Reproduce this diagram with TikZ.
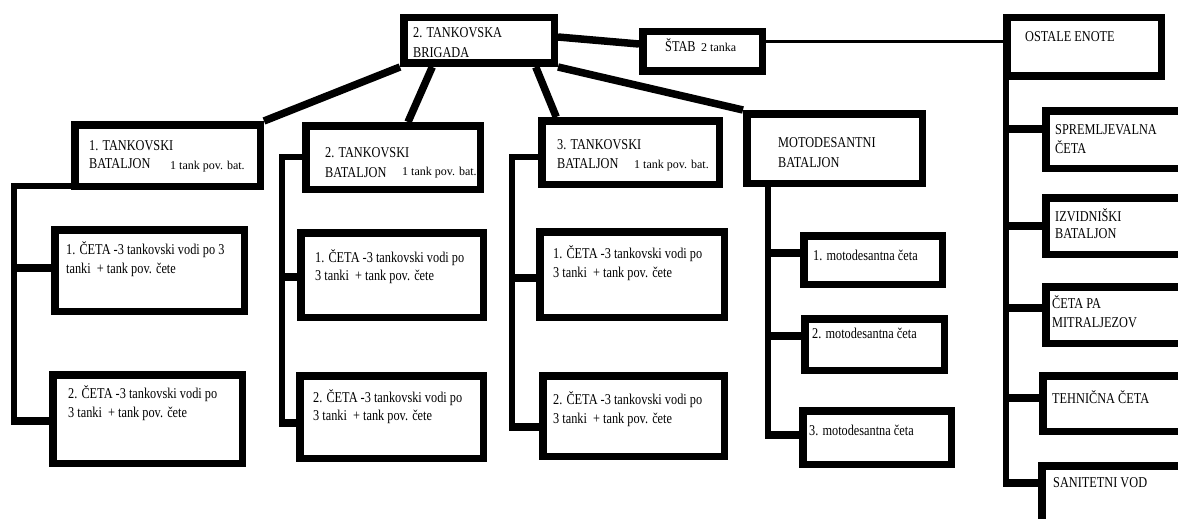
\documentclass[tikz,border=0pt]{standalone}
\usepackage{fontspec}
\setmainfont[FakeStretch=0.82]{Liberation Serif}
\newfontfamily\plainserif{Liberation Serif}
\pgfdeclarelayer{back}
\pgfdeclarelayer{bg}
\pgfsetlayers{back,bg,main}
\newcommand{\mkbox}[5]{\node[bx, minimum width={#4-#2-7.5}, minimum height={#5-#3-7.5}] (#1) at ({(#2+#4)/2},{(#3+#5)/2}) {};}
\begin{document}
\begin{tikzpicture}[x=1pt,y=-1pt,
  bx/.style={draw=black, fill=white, line width=7.5pt, rectangle, inner sep=0pt},
  lbl/.style={anchor=base west, inner sep=0pt, font=\fontsize{15}{18}\selectfont},
  sml/.style={anchor=base west, inner sep=0pt, font=\plainserif\fontsize{12}{14}\selectfont},
  conn/.style={line width=7.5pt},
  trunk/.style={line width=6pt, line join=miter},
  thinconn/.style={line width=3pt}]
\useasboundingbox (0,0) rectangle (1178,519);
\begin{pgfonlayer}{back}
\fill[white] (0,0) rectangle (1178,519);
\end{pgfonlayer}
% boxes
\mkbox{brig}{400}{14}{558}{67}
\mkbox{stab}{639}{28}{766}{75}
\mkbox{ost}{1003}{14}{1165}{80}
\mkbox{bA}{71}{121}{264}{190}
\mkbox{bB}{302}{122}{484}{193}
\mkbox{bC}{538}{117}{723}{188}
\mkbox{moto}{743}{110}{926}{187}
\mkbox{aA}{51}{226}{248}{315}
\mkbox{aB}{49}{371}{246}{467}
\mkbox{cA}{297}{229}{487}{321}
\mkbox{cB}{296}{372}{487}{462}
\mkbox{dA}{536}{228}{728}{321}
\mkbox{dB}{539}{372}{728}{460}
\mkbox{mA}{800}{232}{946}{288}
\mkbox{mB}{801}{315}{948}{374}
\mkbox{mC}{799}{407}{955}{468}
\mkbox{oA}{1042}{107}{1195}{172}
\mkbox{oB}{1042}{194}{1195}{258}
\mkbox{oC}{1042}{283}{1195}{347}
\mkbox{oD}{1039}{372}{1195}{435}
\mkbox{oE}{1038}{462}{1195}{535}
% trunk coordinates
\coordinate (tA1) at (14,186);  \coordinate (tA2) at (14,425);
\coordinate (jA1) at (14,268);  \coordinate (jA2) at (14,421);
\coordinate (tB1) at (282,157); \coordinate (tB2) at (282,427);
\coordinate (jB1) at (282,277); \coordinate (jB2) at (282,423);
\coordinate (tC1) at (512,157); \coordinate (tC2) at (512,431);
\coordinate (jC1) at (512,278); \coordinate (jC2) at (512,427);
\coordinate (tM) at (768,439);
\coordinate (jM1) at (768,253); \coordinate (jM2) at (768,336); \coordinate (jM3) at (768,435);
\coordinate (tO) at (1006,487);
\coordinate (jO1) at (1006,129); \coordinate (jO2) at (1006,226); \coordinate (jO3) at (1006,308);
\coordinate (jO4) at (1006,398); \coordinate (jO5) at (1006,483);
\begin{pgfonlayer}{bg}
\draw[conn] (brig.south west) -- (bA.north east);
\draw[conn] ([xshift=32.25pt]brig.south west) -- ([xshift=106pt]bB.north west);
\draw[conn] ([xshift=-22.25pt]brig.south east) -- ([xshift=18.25pt]bC.north west);
\draw[conn] (brig.south east) -- (moto.north west);
\draw[conn] ([yshift=3.5pt]brig.east) -- ([yshift=7.5pt]stab.west);
\draw[thinconn] ([yshift=9.5pt]stab.east) -- ([yshift=5pt]ost.west);
\draw[trunk] (bA.west |- tA1) -- (tA1) -- (tA2);
\draw[conn] (jA1) -- (jA1 -| aA.west);
\draw[conn] (jA2) -- (jA2 -| aB.west);
\draw[trunk] (bB.west |- tB1) -- (tB1) -- (tB2);
\draw[conn] (jB1) -- (jB1 -| cA.west);
\draw[conn] (jB2) -- (jB2 -| cB.west);
\draw[trunk] (bC.west |- tC1) -- (tC1) -- (tC2);
\draw[conn] (jC1) -- (jC1 -| dA.west);
\draw[conn] (jC2) -- (jC2 -| dB.west);
\draw[trunk] (moto.south -| tM) -- (tM);
\draw[conn] (jM1) -- (jM1 -| mA.west);
\draw[conn] (jM2) -- (jM2 -| mB.west);
\draw[conn] (jM3) -- (jM3 -| mC.west);
\draw[trunk] (ost.south -| tO) -- (tO);
\draw[conn] (jO1) -- (jO1 -| oA.west);
\draw[conn] (jO2) -- (jO2 -| oB.west);
\draw[conn] (jO3) -- (jO3 -| oC.west);
\draw[conn] (jO4) -- (jO4 -| oD.west);
\draw[conn] (jO5) -- (jO5 -| oE.west);
\end{pgfonlayer}
% labels
\node[lbl] (brigT1) at (413,38) {2. TANKOVSKA};
\node[lbl] (brigT2) at (413,58) {BRIGADA};
\node[lbl] (stabT) at (665,52) {ŠTAB};
\node[sml] (stabS) at (701,52) {2 tanka};
\node[lbl] (ostT) at (1025,42) {OSTALE ENOTE};
\node[lbl] (bAT1) at (89,150) {1. TANKOVSKI};
\node[lbl] (bAT2) at (89,168) {BATALJON};
\node[sml] (bAS) at (170,169) {1 tank pov. bat.};
\node[lbl] (bBT1) at (325,157) {2. TANKOVSKI};
\node[lbl] (bBT2) at (325,177) {BATALJON};
\node[sml] (bBS) at (402,175) {1 tank pov. bat.};
\node[lbl] (bCT1) at (557,149) {3. TANKOVSKI};
\node[lbl] (bCT2) at (557,168) {BATALJON};
\node[sml] (bCS) at (634,168) {1 tank pov. bat.};
\node[lbl] (motoT1) at (778,147) {MOTODESANTNI};
\node[lbl] (motoT2) at (778,167) {BATALJON};
\node[lbl] (aAT1) at (66,254) {1. ČETA -3 tankovski vodi po 3};
\node[lbl] (aAT2) at (66,273) {tanki~ + tank pov. čete};
\node[lbl] (aBT1) at (68,398) {2. ČETA -3 tankovski vodi po};
\node[lbl] (aBT2) at (68,417) {3 tanki~ + tank pov. čete};
\node[lbl] (cAT1) at (315,262) {1. ČETA -3 tankovski vodi po};
\node[lbl] (cAT2) at (315,280) {3 tanki~ + tank pov. čete};
\node[lbl] (cBT1) at (313,402) {2. ČETA -3 tankovski vodi po};
\node[lbl] (cBT2) at (313,420) {3 tanki~ + tank pov. čete};
\node[lbl] (dAT1) at (553,258) {1. ČETA -3 tankovski vodi po};
\node[lbl] (dAT2) at (553,277) {3 tanki~ + tank pov. čete};
\node[lbl] (dBT1) at (553,404) {2. ČETA -3 tankovski vodi po};
\node[lbl] (dBT2) at (553,423) {3 tanki~ + tank pov. čete};
\node[lbl] (mAT) at (813,260) {1. motodesantna četa};
\node[lbl] (mBT) at (812,338) {2. motodesantna četa};
\node[lbl] (mCT) at (809,435) {3. motodesantna četa};
\node[lbl] (oAT1) at (1055,134) {SPREMLJEVALNA};
\node[lbl] (oAT2) at (1055,153) {ČETA};
\node[lbl] (oBT1) at (1055,221) {IZVIDNIŠKI};
\node[lbl] (oBT2) at (1055,238) {BATALJON};
\node[lbl] (oCT1) at (1052,308) {ČETA PA};
\node[lbl] (oCT2) at (1052,327) {MITRALJEZOV};
\node[lbl] (oDT) at (1052,403) {TEHNIČNA ČETA};
\node[lbl] (oET) at (1053,487) {SANITETNI VOD};
\end{tikzpicture}
\end{document}
